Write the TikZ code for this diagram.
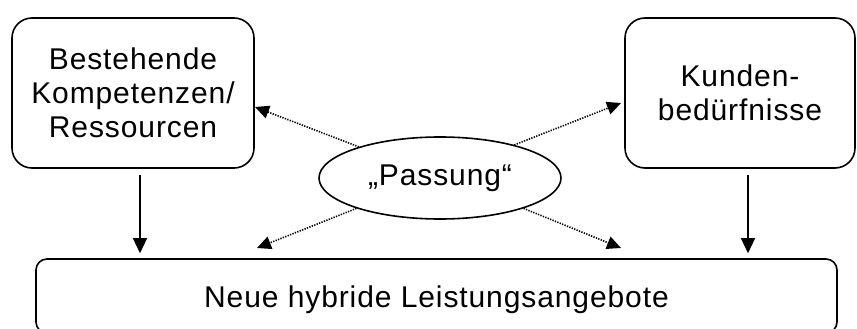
\documentclass[tikz,border=0pt]{standalone}
\usepackage{fontspec}
\setmainfont{Liberation Sans}[LetterSpace=3]
\usetikzlibrary{shapes.geometric,arrows.meta}
\tikzset{
  box/.style={draw, line width=1.6pt, align=center, inner sep=0pt},
  solidarrow/.style={line width=1.3pt, -{Triangle[length=15pt,width=14pt]}},
  dotarrow/.style={line width=1.6pt, dash pattern=on 1.3pt off 1.3pt, -{Triangle[length=14pt,width=13pt]}},
  txt/.style={font=\fontsize{30}{34}\selectfont}
}
\begin{document}
\begin{tikzpicture}[x=1pt,y=-1pt]
\useasboundingbox (0,0) rectangle (857,329);
\node[box, txt, rounded corners=20pt, minimum width=242pt, minimum height=150pt] (lb) at (133,93) {Bestehende\\Kompetenzen/\\Ressourcen};
\node[box, txt, rounded corners=20pt, minimum width=230pt, minimum height=150pt] (rb) at (740,93) {Kunden-\\bedürfnisse};
\node[box, rounded corners=11pt, minimum width=801pt, minimum height=74pt] (bb) at (436.5,296) {};
\node[txt] (bt) at (436.5,300) {Neue hybride Leistungsangebote};
\node[draw, ellipse, line width=1.6pt, minimum width=242pt, minimum height=82pt, inner sep=0pt, txt] (e) at (440,178) {„Passung“};
\coordinate (c1) at (140,0);
\coordinate (c2) at (748,0);
\draw[solidarrow, shorten <=6pt, shorten >=5pt] (lb.south -| c1) -- (bb.north -| c1);
\draw[solidarrow, shorten <=6pt, shorten >=5pt] (rb.south -| c2) -- (bb.north -| c2);
\coordinate (t1) at (255,107);
\coordinate (t2) at (621,103);
\coordinate (t3) at (257,248);
\coordinate (t4) at (621,248);
\draw[dotarrow] (e.159) -- (t1);
\draw[dotarrow] (e.24) -- (t2);
\draw[dotarrow] (e.200) -- (t3);
\draw[dotarrow] (e.340) -- (t4);
\end{tikzpicture}
\end{document}
